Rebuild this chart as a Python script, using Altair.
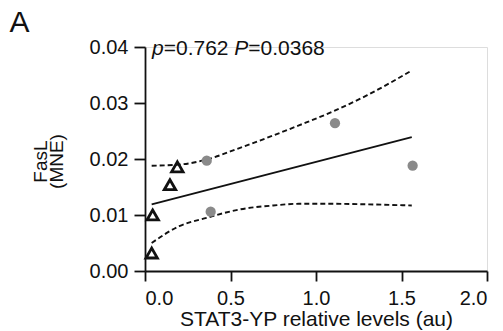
import altair as alt
import pandas as pd

# ---- data ----
tri_x = [0.039, 0.045, 0.146, 0.189]
tri_y = [0.0032, 0.0100, 0.0154, 0.0186]
cir_x = [0.361, 0.384, 1.111, 1.565]
cir_y = [0.0197, 0.0106, 0.0264, 0.0188]
fit_x = [0.039, 1.56]
fit_y = [0.0119, 0.0239]
band_x = [0.039, 0.2, 0.36, 0.556, 0.75, 0.9, 1.1, 1.3, 1.56]
upper_y = [0.0188, 0.0190, 0.0199, 0.0220, 0.0242, 0.0260, 0.0285, 0.0314, 0.0358]
lower_y = [0.0050, 0.0080, 0.0095, 0.0110, 0.0117, 0.0120, 0.0120, 0.0119, 0.0117]
x_ticks = [0, 0.5, 1.0, 1.5, 2.0]
y_ticks = [0, 0.01, 0.02, 0.03, 0.04]
panel_label = "A"
ann_parts = ["p", "=0.762", "P", "=0.0368"]
x_title = "STAT3-YP relative levels (au)"
y_title = ["FasL", "(MNE)"]

FONT = "Liberation Sans"
INK = "#111111"

tri_df = pd.DataFrame({"x": tri_x, "y": tri_y})
cir_df = pd.DataFrame({"x": cir_x, "y": cir_y})
fit_df = pd.DataFrame({"x": fit_x, "y": fit_y})
band_df = pd.concat([
    pd.DataFrame({"x": band_x, "y": upper_y, "band": "upper"}),
    pd.DataFrame({"x": band_x, "y": lower_y, "band": "lower"}),
])

xscale = alt.Scale(domain=[0, 2], nice=False, zero=False)
yscale = alt.Scale(domain=[0, 0.04], nice=False, zero=False)

xaxis = alt.Axis(values=x_ticks, format=".1f", title=x_title, grid=False,
                 domainColor=INK, domainWidth=1.8, tickColor=INK, tickWidth=1.8,
                 tickSize=10, labelPadding=7, labelFont=FONT, labelFontSize=20,
                 labelColor=INK, titleFont=FONT, titleFontSize=21, titleColor=INK,
                 titleFontWeight="normal", titleY=37, titleBaseline="top")
yaxis = alt.Axis(values=y_ticks, format=".2f", title=y_title, grid=False,
                 domainColor=INK, domainWidth=1.8, tickColor=INK, tickWidth=1.8,
                 tickSize=11, labelPadding=6, labelFont=FONT, labelFontSize=20,
                 labelColor=INK, titleFont=FONT, titleFontSize=19, titleColor=INK,
                 titleFontWeight="normal", titleAngle=270, titleAlign="center",
                 titleBaseline="alphabetic", titleLineHeight=16,
                 titleX=-99, titleY=114)

X = alt.X("x:Q", scale=xscale, axis=xaxis)
Y = alt.Y("y:Q", scale=yscale, axis=yaxis)

bands = alt.Chart(band_df).mark_line(
    color=INK, strokeWidth=1.9, strokeDash=[5, 3], interpolate="monotone"
).encode(x=X, y=Y, detail="band:N")

fit = alt.Chart(fit_df).mark_line(color=INK, strokeWidth=1.9).encode(x=X, y=Y)

tri = alt.Chart(tri_df).mark_point(
    shape="triangle-up", filled=False, stroke=INK, strokeWidth=2.8, size=130, opacity=1
).encode(x=X, y=Y)

cir = alt.Chart(cir_df).mark_circle(color="#8a8a8a", size=105, opacity=1).encode(x=X, y=Y)

letter = alt.Chart(pd.DataFrame({"t": [panel_label]})).mark_text(
    align="left", baseline="alphabetic", font=FONT, fontSize=30, color=INK
).encode(text="t:N", x=alt.value(-135.5), y=alt.value(-15))

ann_dx = [0, 11.7, 82.3, 96.3]
ann_style = ["italic", "normal", "italic", "normal"]
ann_layers = []
for txt, dx, st in zip(ann_parts, ann_dx, ann_style):
    ann_layers.append(
        alt.Chart(pd.DataFrame({"t": [txt]})).mark_text(
            align="left", baseline="alphabetic", font=FONT, fontSize=21,
            fontStyle=st, color=INK, dx=dx
        ).encode(text="t:N", x=alt.value(7), y=alt.value(8))
    )

chart = alt.layer(bands, fit, cir, tri, letter, *ann_layers).properties(
    width=342, height=224,
    autosize=alt.AutoSizeParams(type="none"),
    padding={"left": 137, "top": 39, "right": 8, "bottom": 60},
).configure_view(stroke=None).configure(background="white")

chart.save("out.html", embed_options={"renderer": "svg", "actions": False})
